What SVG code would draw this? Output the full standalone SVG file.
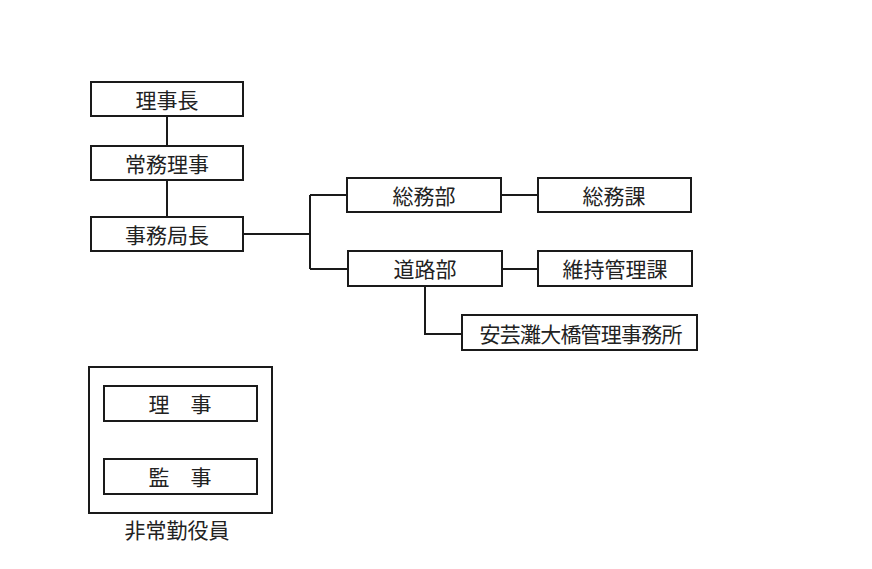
<svg xmlns="http://www.w3.org/2000/svg" width="872" height="569" viewBox="0 0 872 569">
<style>
.box{fill:#fff;stroke:#1a1a1a;stroke-width:2}
.ln{fill:none;stroke:#1a1a1a;stroke-width:2}
text{font-family:"Noto Sans CJK JP","Noto Sans CJK SC",sans-serif;font-size:21px;fill:#222;text-anchor:middle;dominant-baseline:central}
</style>
<rect width="872" height="569" fill="#fff"/>
<g id="connectors">
<path class="ln" d="M167 116V146M167 180V217"/>
<path class="ln" d="M243 234H310M310 195V269M310 195H347M310 269H348"/>
<path class="ln" d="M501 195H538M502 269H538"/>
<path class="ln" d="M425 286V334H462"/>
</g>
<g id="n1"><rect class="box" x="91" y="82" width="152" height="34"/><text x="167" y="99">理事長</text></g>
<g id="n2"><rect class="box" x="91" y="146" width="152" height="34"/><text x="167" y="163">常務理事</text></g>
<g id="n3"><rect class="box" x="91" y="217" width="152" height="34"/><text x="167" y="234">事務局長</text></g>
<g id="n4"><rect class="box" x="347" y="178" width="154" height="34"/><text x="424" y="195">総務部</text></g>
<g id="n5"><rect class="box" x="348" y="251" width="154" height="35"/><text x="425" y="268">道路部</text></g>
<g id="n6"><rect class="box" x="538" y="178" width="153" height="34"/><text x="614" y="195">総務課</text></g>
<g id="n7"><rect class="box" x="538" y="251" width="154" height="35"/><text x="615" y="268">維持管理課</text></g>
<g id="n8"><rect class="box" x="462" y="315" width="235" height="35"/><text x="581" y="333" textLength="203" lengthAdjust="spacing">安芸灘大橋管理事務所</text></g>
<g id="n9"><rect class="box" x="89" y="367" width="183" height="146"/><text x="177" y="529">非常勤役員</text></g>
<g id="n10"><rect class="box" x="104" y="386" width="153" height="35"/><text x="180" y="403">理　事</text></g>
<g id="n11"><rect class="box" x="104" y="459" width="153" height="35"/><text x="180" y="476">監　事</text></g>
</svg>
